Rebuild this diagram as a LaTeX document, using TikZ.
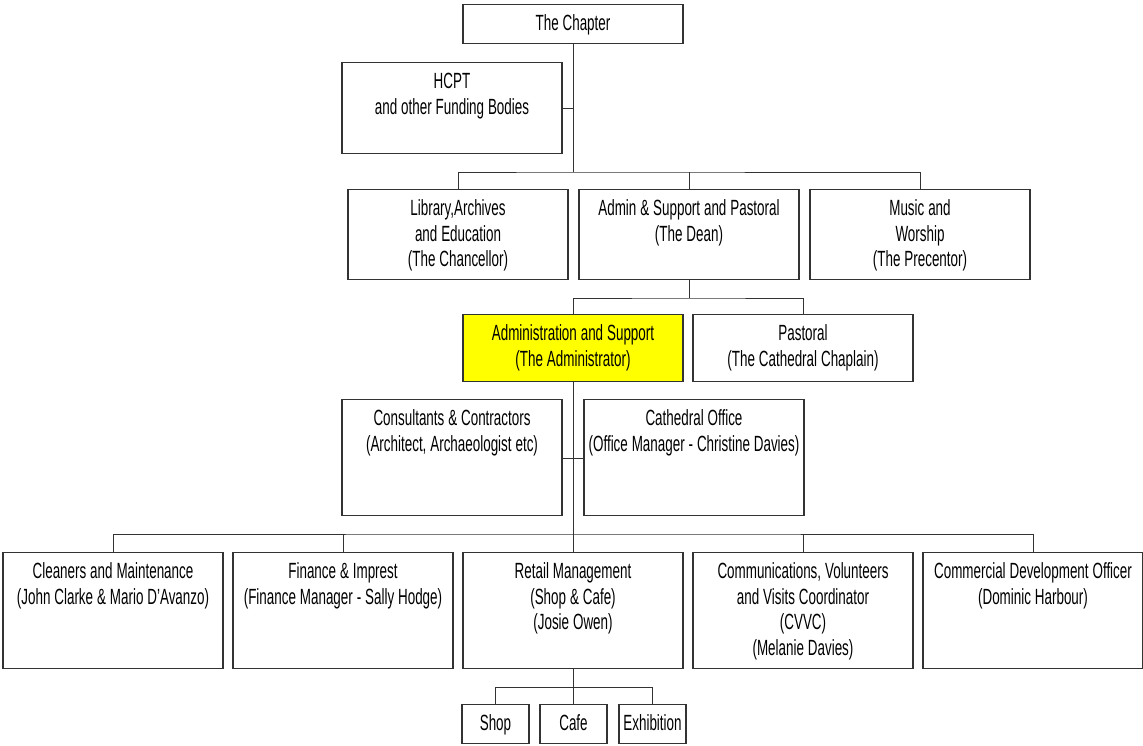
\documentclass[tikz,border=0pt]{standalone}
\usepackage{fontspec}
\setmainfont{Liberation Sans}[FakeStretch=0.61]
\definecolor{boxline}{HTML}{333333}
\definecolor{adminfill}{HTML}{FFFF00}
\newcommand{\orgfont}{\fontsize{22}{25.5}\selectfont}
\newcommand{\orgspace}{\spaceskip=3.9pt\relax\xspaceskip=3.9pt\relax}

\begin{document}
\begin{tikzpicture}[x=1pt, y=-1pt,
        orgbox/.style={draw=boxline, line width=1.2pt, inner sep=0pt, text width=220pt,
            align=center, font=\orgfont, text height=26pt, text depth=#1, anchor=north,
            execute at begin node=\orgspace},
        smallbox/.style={orgbox=13pt, text width=67pt},
        link/.style={draw=boxline, line width=1pt}]
        \useasboundingbox (0,0) rectangle (1143,745);

        % Level 0
        \node[orgbox=13pt] (chapter) at (573,4) {The Chapter};
        \node[orgbox=65pt] (hcpt) at (452,62) {HCPT\\and other Funding Bodies};

        % Level 1
        \node[orgbox=64pt] (library) at (458,189) {Library,Archives\\and Education\\(The Chancellor)};
        \node[orgbox=64pt] (dean) at (689,189) {Admin \& Support and Pastoral\\(The Dean)};
        \node[orgbox=64pt] (music) at (920,189) {Music and\\Worship\\(The Precentor)};

        % Level 2
        \node[orgbox=41pt, fill=adminfill] (admin) at (573,314) {Administration and Support\\(The Administrator)};
        \node[orgbox=41pt] (pastoral) at (803,314) {Pastoral\\(The Cathedral Chaplain)};

        % Assistants
        \node[orgbox=90pt] (consult) at (452,399) {Consultants \& Contractors\\(Architect, Archaeologist etc)};
        \node[orgbox=90pt] (office) at (694,399) {Cathedral Office\\(Office Manager - Christine Davies)};

        % Level 3
        \node[orgbox=90pt] (cleaners) at (113,552) {Cleaners and Maintenance\\(John Clarke \& Mario D'Avanzo)};
        \node[orgbox=90pt] (finance) at (343,552) {Finance \& Imprest\\(Finance Manager - Sally Hodge)};
        \node[orgbox=90pt] (retail) at (573,552) {Retail Management\\(Shop \& Cafe)\\(Josie Owen)};
        \node[orgbox=90pt] (cvvc) at (803,552) {Communications, Volunteers\\and Visits Coordinator\\(CVVC)\\(Melanie Davies)};
        \node[orgbox=90pt] (commercial) at (1033,552) {Commercial Development Officer\\(Dominic Harbour)};

        % Level 4
        \node[smallbox] (shop) at (495.5,704) {Shop};
        \node[smallbox] (cafe) at (573.5,704) {Cafe};
        \node[smallbox] (exhibition) at (652.5,704) {Exhibition};

        % Bus points
        \coordinate (bus1) at (573,172);
        \coordinate (bus2) at (689,298);
        \coordinate (bus3) at (573,534);
        \coordinate (bus4) at (573,687);

        % Connections
        \draw[link] (chapter.south) -- (bus1);
        \draw[link] (hcpt.east) -- (hcpt.east -| bus1);
        \draw[link] (library.north) |- (bus1) -| (music.north);
        \draw[link] (dean.north) -- (dean.north |- bus1);

        \draw[link] (dean.south) -- (bus2);
        \draw[link] (admin.north) |- (bus2) -| (pastoral.north);

        \draw[link] (admin.south) -- (bus3);
        \draw[link] (consult.east |- 0,458) -- (office.west |- 0,458);
        \draw[link] (cleaners.north) |- (bus3) -| (commercial.north);
        \draw[link] (finance.north) -- (finance.north |- bus3);
        \draw[link] (retail.north) -- (bus3);
        \draw[link] (cvvc.north) -- (cvvc.north |- bus3);

        \draw[link] (retail.south) -- (bus4);
        \draw[link] (shop.north) |- (bus4) -| (exhibition.north);
        \draw[link] (cafe.north) -- (cafe.north |- bus4);

        \end{tikzpicture}
\end{document}
